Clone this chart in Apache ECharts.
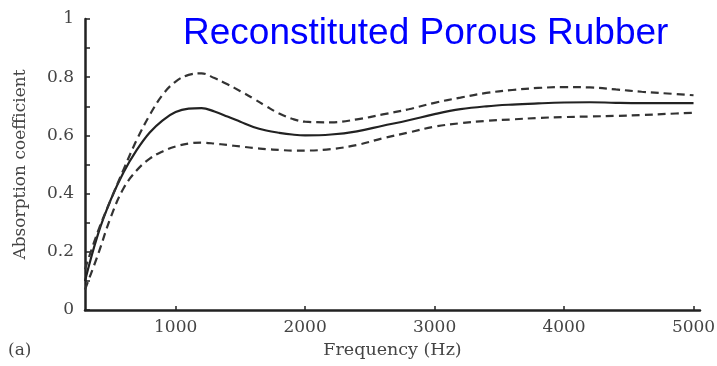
<!DOCTYPE html>
<html>
<head>
<meta charset="utf-8">
<script src="https://cdn.jsdelivr.net/npm/echarts@6/dist/echarts.min.js"></script>
<style>
html,body{margin:0;padding:0;background:#fff;}
#chart{width:717px;height:366px;}
</style>
</head>
<body>
<div id="chart"></div>
<script>
// Frequency points (Hz)
var frequencies = [300, 400, 500, 600, 700, 800, 900, 1000, 1100, 1200, 1300, 1400, 1500, 1600, 1700, 1800, 1900, 2000, 2200, 2400, 2600, 2800, 3000, 3200, 3400, 3600, 3800, 4000, 4200, 4400, 4600, 4800, 5000];
// Mean absorption coefficient (solid line)
var meanValues = [0.10, 0.26, 0.38, 0.475, 0.55, 0.61, 0.652, 0.68, 0.692, 0.694, 0.682, 0.665, 0.647, 0.629, 0.617, 0.609, 0.603, 0.600, 0.603, 0.614, 0.633, 0.652, 0.673, 0.69, 0.70, 0.706, 0.71, 0.713, 0.714, 0.712, 0.711, 0.711, 0.711];
// Upper bound (dashed)
var upperValues = [0.14, 0.27, 0.38, 0.485, 0.585, 0.67, 0.74, 0.785, 0.808, 0.813, 0.797, 0.776, 0.752, 0.727, 0.70, 0.675, 0.657, 0.647, 0.645, 0.655, 0.672, 0.69, 0.712, 0.73, 0.746, 0.756, 0.763, 0.766, 0.765, 0.758, 0.75, 0.744, 0.738];
// Lower bound (dashed)
var lowerValues = [0.07, 0.19, 0.32, 0.42, 0.48, 0.52, 0.545, 0.562, 0.572, 0.575, 0.572, 0.567, 0.562, 0.557, 0.553, 0.55, 0.548, 0.548, 0.553, 0.567, 0.59, 0.61, 0.63, 0.642, 0.65, 0.655, 0.66, 0.663, 0.665, 0.667, 0.67, 0.674, 0.678];
var xTickValues = [1000, 2000, 3000, 4000, 5000];
var yTickLabels = ['0', '0.2', '0.4', '0.6', '0.8', '1'];

function pairs(vals) {
  return frequencies.map(function (f, i) { return [f, vals[i]]; });
}

var chart = echarts.init(document.getElementById('chart'), null, {renderer: 'canvas'});
var serif = 'DejaVu Serif';
var axisColor = '#222';
var textColor = '#444';

chart.setOption({
  animation: false,
  backgroundColor: '#fff',
  grid: {left: 85, right: 17, top: 19, bottom: 56, containLabel: false, outerBoundsMode: 'none'},
  xAxis: {
    type: 'value',
    min: 300,
    max: 5050,
    name: 'Frequency (Hz)',
    nameLocation: 'middle',
    nameGap: 31,
    nameTextStyle: {fontFamily: serif, fontSize: 17.5, color: textColor},
    axisLine: {show: true, onZero: false, lineStyle: {color: axisColor, width: 2.5}},
    axisTick: {show: true, inside: true, length: 4, customValues: xTickValues, lineStyle: {color: axisColor, width: 1.5}},
    axisLabel: {
      customValues: xTickValues, fontFamily: serif, fontSize: 17, color: textColor, margin: 9,
      formatter: function (v) { return String(Math.round(v)); }
    },
    splitLine: {show: false}
  },
  yAxis: {
    type: 'value',
    min: 0,
    max: 1,
    interval: 0.1,
    name: 'Absorption coefficient',
    nameLocation: 'middle',
    nameGap: 56,
    nameTextStyle: {fontFamily: serif, fontSize: 17, color: textColor},
    axisLine: {show: true, onZero: false, lineStyle: {color: axisColor, width: 2.5}},
    axisTick: {show: true, inside: true, length: 5, lineStyle: {color: axisColor, width: 1.5}},
    axisLabel: {
      fontFamily: serif, fontSize: 17, color: textColor, margin: 11,
      formatter: function (v) {
        var k = Math.round(v * 10);
        if (k % 2 !== 0) return '';
        return yTickLabels[k / 2];
      }
    },
    splitLine: {show: false}
  },
  series: [
    {
      type: 'line', name: 'Mean', data: pairs(meanValues), smooth: 0.4, showSymbol: false,
      lineStyle: {color: '#222', width: 2.2}
    },
    {
      type: 'line', name: 'Upper', data: pairs(upperValues), smooth: 0.4, showSymbol: false,
      lineStyle: {color: '#333', width: 2.2, type: [8, 5]}
    },
    {
      type: 'line', name: 'Lower', data: pairs(lowerValues), smooth: 0.4, showSymbol: false,
      lineStyle: {color: '#333', width: 2.2, type: [8, 5]}
    }
  ],
  graphic: [
    {
      type: 'text', left: 183, top: 15,
      style: {text: 'Reconstituted Porous Rubber', font: '37px "Liberation Sans", Arial, sans-serif', fill: '#0000ff'}
    },
    {
      type: 'text', left: 8, top: 342,
      style: {text: '(a)', font: '17px "DejaVu Serif", serif', fill: textColor}
    }
  ]
});
</script>
</body>
</html>
